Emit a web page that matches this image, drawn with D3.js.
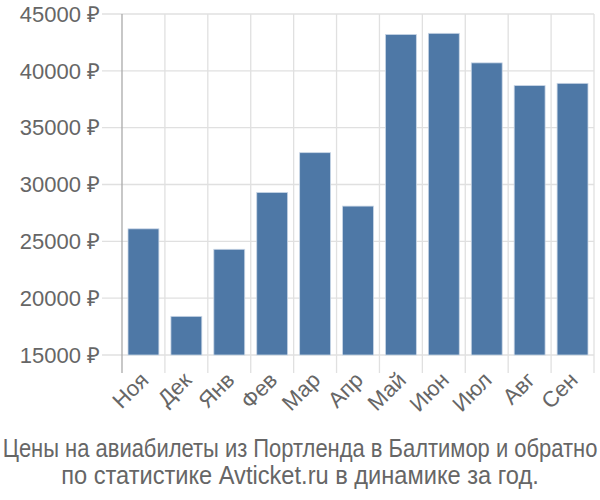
<!DOCTYPE html>
<html>
<head>
<meta charset="utf-8">
<script src="https://cdn.jsdelivr.net/npm/d3@7"></script>
<style>
  html, body { margin: 0; padding: 0; background: #fff; }
  svg text { font-family: "Liberation Sans", Arial, sans-serif; fill: #666; }
</style>
</head>
<body>
<svg id="chart" width="600" height="500"></svg>
<script>
const months = ["Ноя", "Дек", "Янв", "Фев", "Мар", "Апр", "Май", "Июн", "Июл", "Авг", "Сен"];
const prices = [26100, 18400, 24300, 29300, 32800, 28100, 43200, 43300, 40700, 38700, 38900];
const yTicks = [15000, 20000, 25000, 30000, 35000, 40000, 45000];
const titleLines = ["Цены на авиабилеты из Портленда в Балтимор и обратно", "по статистике Avticket.ru в динамике за год."];

(function () {
const svg = d3.select("#chart");
const pL = 122, pR = 594, pT = 14, pB = 355;

const x = d3.scaleBand().domain(months).range([pL, pR]).paddingInner(0.28).paddingOuter(0.14);
const y = d3.scaleLinear().domain([15000, 45000]).range([pB, pT]);

const bandStep = (pR - pL) / months.length;

// horizontal gridlines
svg.append("g").selectAll("line").data(yTicks).join("line")
  .attr("x1", 102).attr("x2", pR)
  .attr("y1", d => y(d)).attr("y2", d => y(d))
  .attr("stroke", "#e0e0e0").attr("stroke-width", 1.3);

// vertical gridlines at band boundaries
const bounds = d3.range(months.length + 1).map(i => pL + i * bandStep);
svg.append("g").selectAll("line").data(bounds.slice(1)).join("line")
  .attr("x1", d => d).attr("x2", d => d)
  .attr("y1", pT).attr("y2", 373)
  .attr("stroke", "#e0e0e0").attr("stroke-width", 1.3);

// y axis line
svg.append("line").attr("x1", pL).attr("x2", pL).attr("y1", pT).attr("y2", 373)
  .attr("stroke", "#aaa").attr("stroke-width", 1.3);

// bars
svg.append("g").selectAll("rect").data(prices).join("rect")
  .attr("x", (d, i) => x(months[i]))
  .attr("width", x.bandwidth())
  .attr("y", d => y(d))
  .attr("height", d => y(15000) - y(d))
  .attr("fill", "#4e78a6")
  .attr("stroke", "#c9d6e6").attr("stroke-width", 0.8);

// y tick labels
svg.append("g").selectAll("text").data(yTicks).join("text")
  .attr("x", 100).attr("y", d => y(d))
  .attr("dy", "0.35em")
  .attr("text-anchor", "end")
  .style("font-size", "22px")
  .text(d => d + " ₽");

// x labels rotated
svg.append("g").selectAll("text").data(months).join("text")
  .attr("transform", d => `translate(${x(d) + x.bandwidth() / 2 + 1},${376}) rotate(-45)`)
  .attr("text-anchor", "end")
  .attr("dy", "0.35em")
  .style("font-size", "22px")
  .text(d => d);

// title (condensed horizontally to fit target widths)
const targetW = [595, 478];
titleLines.forEach((line, i) => {
  const g = svg.append("g");
  const t = g.append("text")
    .attr("x", 0).attr("y", 457 + i * 27)
    .attr("text-anchor", "middle")
    .style("font-size", "25px")
    .text(line);
  const w = t.node().getComputedTextLength();
  g.attr("transform", `translate(300,0) scale(${targetW[i] / w},1)`);
});
})();
</script>
</body>
</html>
